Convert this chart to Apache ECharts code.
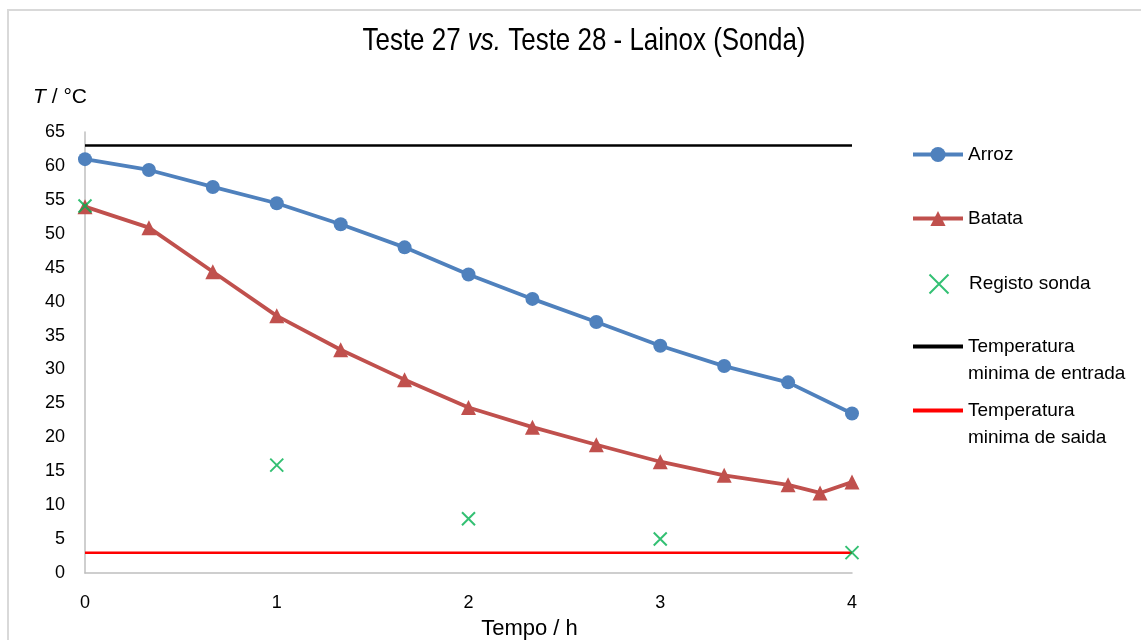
<!DOCTYPE html>
<html>
<head>
<meta charset="utf-8">
<script src="https://cdn.jsdelivr.net/npm/echarts@6/dist/echarts.min.js"></script>
<style>
  html, body { margin: 0; padding: 0; background: #fff; }
  #chart { width: 1141px; height: 640px; }
</style>
</head>
<body>
<div id="chart"></div>
<script>
// Time (h) of each reading
const tempo = [0, 1/3, 2/3, 1, 4/3, 5/3, 2, 7/3, 8/3, 3, 10/3, 11/3, 4];
const arroz = [61.0, 59.4, 56.9, 54.5, 51.4, 48.0, 44.0, 40.4, 37.0, 33.5, 30.5, 28.1, 23.5];

const tempoBatata = [0, 1/3, 2/3, 1, 4/3, 5/3, 2, 7/3, 8/3, 3, 10/3, 11/3, 23/6, 4];
const batata = [54.0, 50.9, 44.4, 37.9, 32.9, 28.5, 24.4, 21.5, 18.9, 16.4, 14.4, 13.0, 11.8, 13.4];

const tempoSonda = [0, 1, 2, 3, 4];
const sonda = [54.1, 15.9, 8.0, 5.0, 3.0];

const limiteEntrada = 63;
const limiteSaida = 3;
const tempoLimites = [0, 4];

const yTicks = { min: 0, max: 65, interval: 5 };
const xTicks = { min: 0, max: 4, interval: 1 };

const FONT = '"Liberation Sans", Arial, sans-serif';

const pairs = (xs, ys) => xs.map((x, i) => [x, ys[i]]);

const crossPath = 'path://M0,0 L10,10 M10,0 L0,10';

// Title: a tall, condensed face obtained by squeezing a regular sans horizontally
const TITLE_SIZE = 32;
const TITLE_WIDTH = 443;
const titleParts = [['Teste 27 ', 'normal'], ['vs.', 'italic'], [' Teste 28 - Lainox (Sonda)', 'normal']];
const measureCtx = document.createElement('canvas').getContext('2d');
let titleNatural = 0;
titleParts.forEach(([t, s]) => {
  measureCtx.font = s + ' ' + TITLE_SIZE + 'px ' + FONT;
  titleNatural += measureCtx.measureText(t).width;
});
const titleScale = TITLE_WIDTH / titleNatural;

// One legend block per series so that each entry can be placed freely
function legendItem(name, left, top, label, hideSymbol) {
  return {
    data: [hideSymbol ? { name: name, itemStyle: { opacity: 0 } } : name],
    orient: 'vertical',
    left: left,
    top: top,
    padding: 0,
    itemWidth: 50,
    itemHeight: 19,
    itemGap: 0,
    formatter: () => label,
    lineStyle: { width: 4 },
    textStyle: {
      fontFamily: FONT,
      fontSize: 19,
      color: '#000',
      rich: {
        e: { fontSize: 19, lineHeight: 27, fontFamily: FONT },
        a: { fontSize: 19, lineHeight: 27, fontFamily: FONT, color: '#000' }
      }
    },
    selectedMode: false
  };
}

const chart = echarts.init(document.getElementById('chart'), null, { renderer: 'canvas' });

chart.setOption({
  animation: false,
  backgroundColor: '#fff',
  graphic: [
    {
      type: 'rect',
      shape: { x: 8, y: 10, width: 1200, height: 700 },
      style: { fill: 'none', stroke: '#d9d9d9', lineWidth: 2 },
      silent: true
    },
    {
      type: 'text',
      x: 584,
      y: 41,
      scaleX: titleScale,
      style: {
        text: '{a|Teste 27 }{b|vs.}{a| Teste 28 - Lainox (Sonda)}',
        align: 'center',
        verticalAlign: 'middle',
        rich: {
          a: { fontFamily: FONT, fontSize: TITLE_SIZE, fill: '#000' },
          b: { fontFamily: FONT, fontSize: TITLE_SIZE, fill: '#000', fontStyle: 'italic' }
        }
      },
      silent: true
    }
  ],
  legend: [
    legendItem('Arroz', 911, 145, '{a|Arroz}'),
    legendItem('Batata', 911, 209, '{a|Batata}'),
    legendItem('Registo sonda', 927, 272, '{a|Registo sonda}'),
    legendItem('Temperatura minima de entrada', 911, 310, '{e|}\n{a|Temperatura}\n{a|minima de entrada}', true),
    legendItem('Temperatura minima de saida', 911, 374, '{e|}\n{a|Temperatura}\n{a|minima de saida}', true)
  ],
  grid: { left: 85, right: 289, top: 132, bottom: 67, outerBoundsMode: 'none' },
  xAxis: {
    type: 'value',
    min: xTicks.min,
    max: xTicks.max,
    interval: xTicks.interval,
    name: 'Tempo / h',
    nameLocation: 'middle',
    nameGap: 45,
    nameTextStyle: { fontFamily: FONT, fontSize: 22, color: '#000', padding: [0, 0, 0, 122] },
    axisLine: { lineStyle: { color: '#bfbfbf', width: 1.5 } },
    axisTick: { show: false },
    splitLine: { show: false },
    axisLabel: { fontFamily: FONT, fontSize: 18, color: '#000', margin: 21 }
  },
  yAxis: {
    type: 'value',
    min: yTicks.min,
    max: yTicks.max,
    interval: yTicks.interval,
    name: '{i|T}{n| / °C}',
    nameLocation: 'end',
    nameGap: 24,
    nameTextStyle: {
      align: 'center',
      padding: [0, 50, 0, 0],
      rich: {
        i: { fontFamily: FONT, fontSize: 21, fontStyle: 'italic', color: '#000' },
        n: { fontFamily: FONT, fontSize: 21, color: '#000' }
      }
    },
    axisLine: { show: true, lineStyle: { color: '#bfbfbf', width: 1.5 } },
    axisTick: { show: false },
    splitLine: { show: false },
    axisLabel: { fontFamily: FONT, fontSize: 18, color: '#000', margin: 20 }
  },
  series: [
    {
      name: 'Temperatura minima de entrada',
      type: 'line',
      data: pairs(tempoLimites, [limiteEntrada, limiteEntrada]),
      symbol: 'none',
      lineStyle: { color: '#000', width: 2.5 },
      itemStyle: { color: '#000' },
      z: 1
    },
    {
      name: 'Temperatura minima de saida',
      type: 'line',
      data: pairs(tempoLimites, [limiteSaida, limiteSaida]),
      symbol: 'none',
      lineStyle: { color: '#ff0000', width: 2.5 },
      itemStyle: { color: '#ff0000' },
      z: 1
    },
    {
      name: 'Arroz',
      type: 'line',
      data: pairs(tempo, arroz),
      symbol: 'circle',
      symbolSize: 14,
      lineStyle: { color: '#4f81bd', width: 3.8 },
      itemStyle: { color: '#4f81bd' },
      z: 3
    },
    {
      name: 'Batata',
      type: 'line',
      data: pairs(tempoBatata, batata),
      symbol: 'triangle',
      symbolSize: 15,
      lineStyle: { color: '#c0504d', width: 3.8 },
      itemStyle: { color: '#c0504d' },
      z: 3
    },
    {
      name: 'Registo sonda',
      type: 'scatter',
      data: pairs(tempoSonda, sonda),
      symbol: crossPath,
      symbolSize: 13,
      itemStyle: { color: 'none', borderColor: '#00b050', borderWidth: 2 },
      z: 4
    }
  ]
});
</script>
</body>
</html>
